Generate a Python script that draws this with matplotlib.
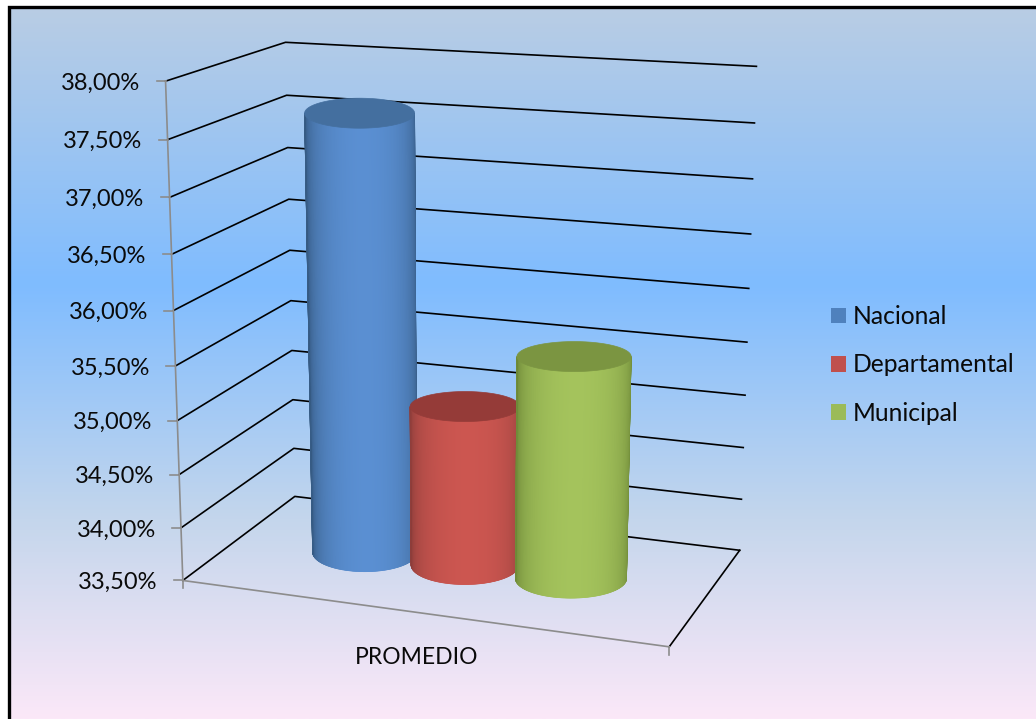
import numpy as np
import matplotlib
matplotlib.use('Agg')
import matplotlib.pyplot as plt
from matplotlib.collections import PolyCollection
from matplotlib.colors import LinearSegmentedColormap
from matplotlib.patches import Patch, Polygon

# data
CATEGORY = 'PROMEDIO'
SERIES_NAMES = ['Nacional', 'Departamental', 'Municipal']
SERIES_VALUES = [37.60, 35.01, 35.57]
TICK_VALUES = [33.5, 34.0, 34.5, 35.0, 35.5, 36.0, 36.5, 37.0, 37.5, 38.0]
TICK_LABELS = ['33,50%', '34,00%', '34,50%', '35,00%', '35,50%',
               '36,00%', '36,50%', '37,00%', '37,50%', '38,00%']

# colours: legend/light part, dark edge, top cap
BAR_LIGHT = ['#5a8fd2', '#cc5650', '#a4c35c']
BAR_DARK = ['#34587f', '#8a3c39', '#6b8636']
BAR_TOP = ['#446f9f', '#953b38', '#7b9541']
LEGEND_COLORS = ['#4f81bd', '#c0504d', '#9bbb59']

# camera fit: (x, value, depth) of the chart box -> pixel in the image
BOX_POINTS = [(0, 33.5, 0), (1, 33.5, 0), (1, 33.5, 1), (0, 33.5, 1),
              (0, 38, 0), (0, 38, 1), (1, 38, 1),
              (0, 36, 0), (0, 36, 1), (1, 36, 1)]
BOX_PIXELS = [(183, 581), (668, 648), (740, 549), (295, 497),
              (165, 81), (285, 43), (757, 67),
              (175, 309), (289, 250), (749, 288)]

BAR_X = [0.278, 0.497, 0.722]
BAR_RX = 0.116
BAR_Z = 0.5
# excel draws the ellipses rounder than the box perspective, so in pixels
TOP_SEMI = 15
BASE_SEMI = 19.5


def fit_camera():
    rows = []
    for (x, v, z), (u, w) in zip(BOX_POINTS, BOX_PIXELS):
        p = [x, (v - 33.5) / 4.5, z, 1]
        rows.append(p + [0, 0, 0, 0] + [-u * a for a in p])
        rows.append([0, 0, 0, 0] + p + [-w * a for a in p])
    return np.linalg.svd(np.array(rows, dtype=float))[2][-1].reshape(3, 4)


CAMERA = fit_camera()


def project(x, v, z):
    x, v, z = np.broadcast_arrays(np.asarray(x, float), np.asarray(v, float), np.asarray(z, float))
    p = np.stack([x, (v - 33.5) / 4.5, z, np.ones_like(x)])
    q = CAMERA @ p.reshape(4, -1)
    return np.column_stack([q[0] / q[2], q[1] / q[2]])


def to_rgb(c):
    return np.array(matplotlib.colors.to_rgb(c))


def ellipse(cx, value, semi, theta):
    left = project(cx - BAR_RX, value, BAR_Z)[0]
    right = project(cx + BAR_RX, value, BAR_Z)[0]
    center = (left + right) / 2
    half = (right[0] - left[0]) / 2
    return np.column_stack([center[0] + half * np.cos(theta), center[1] + semi * np.sin(theta)])


def draw_cylinder(ax, cx, value, light, dark, top, zorder):
    theta = np.linspace(0, np.pi, 181)
    low = ellipse(cx, 33.5, BASE_SEMI, theta)
    high = ellipse(cx, value, TOP_SEMI, theta)
    # solid shape underneath so the grid does not show through the strip seams
    ax.add_patch(Polygon(np.vstack([low, high[::-1]]), closed=True, facecolor=light,
                         edgecolor='none', zorder=zorder))
    strips = []
    colors = []
    for i in range(len(theta) - 1):
        strips.append([low[i], low[i + 1], high[i + 1], high[i]])
        mid = (theta[i] + theta[i + 1]) / 2
        f = abs(np.sin(mid + 0.05)) ** 0.8
        colors.append(to_rgb(dark) + (to_rgb(light) - to_rgb(dark)) * f)
    ax.add_collection(PolyCollection(strips, facecolors=colors, edgecolors=colors,
                                     linewidths=0.5, zorder=zorder + 0.05))
    cap = ellipse(cx, value, TOP_SEMI, np.linspace(0, 2 * np.pi, 121))
    ax.add_patch(Polygon(cap, closed=True, facecolor=top, edgecolor=top, lw=0.5, zorder=zorder + 0.1))


def draw_box(ax):
    for v in TICK_VALUES:
        line = project([0, 0, 1], v, [0, 1, 1])
        ax.plot(line[:, 0], line[:, 1], color='black', lw=1.2, zorder=2)
    right = project([1, 1], 33.5, [0, 1])
    ax.plot(right[:, 0], right[:, 1], color='black', lw=1.2, zorder=2)

    gray = '#8c8c8c'
    axis = project(0, [33.5, 38], 0)
    ax.plot(axis[:, 0], axis[:, 1], color=gray, lw=1.2, zorder=3)
    front = project([0, 1], 33.5, 0)
    ax.plot(front[:, 0], front[:, 1], color=gray, lw=1.2, zorder=3)
    for v, label in zip(TICK_VALUES, TICK_LABELS):
        u, w = project(0, v, 0)[0]
        ax.plot([u - 9, u], [w, w], color=gray, lw=1.2, zorder=3)
        ax.text(u - 25, w + 2, label, ha='right', va='center', fontsize=17, color='#0a0a0a')
    for x in (0, 1):
        u, w = project(x, 33.5, 0)[0]
        ax.plot([u, u], [w, w + 8], color=gray, lw=1.2, zorder=3)


def main():
    fig = plt.figure(figsize=(10.36, 7.19), dpi=100, facecolor='white')
    plt.rcParams['font.family'] = ['Lato', 'DejaVu Sans']
    ax = fig.add_axes([0, 0, 1, 1])
    ax.set_xlim(0, 1036)
    ax.set_ylim(719, 0)
    ax.axis('off')

    bg = LinearSegmentedColormap.from_list('bg', [(0, '#b9cde4'), (0.39, '#7fbcff'),
                                                  (0.72, '#c4d6ec'), (1, '#fbe8f8')])
    ax.imshow(np.linspace(0, 1, 256).reshape(-1, 1), cmap=bg, aspect='auto',
              extent=(9, 1036, 719, 7), zorder=0)
    ax.set_xlim(0, 1036)
    ax.set_ylim(719, 0)
    ax.plot([9, 9, 1036], [719, 7, 7], color='black', lw=2.4, zorder=1,
            solid_joinstyle='miter')

    draw_box(ax)
    for i, value in enumerate(SERIES_VALUES):
        draw_cylinder(ax, BAR_X[i], value, BAR_LIGHT[i], BAR_DARK[i], BAR_TOP[i], 4 + i)

    ax.text(417, 657, CATEGORY, ha='center', va='center', fontsize=16.5, color='#0a0a0a')

    handles = [Patch(facecolor=c, edgecolor='none') for c in LEGEND_COLORS]
    ax.legend(handles, SERIES_NAMES, loc='center left', bbox_to_anchor=(809, 365),
              bbox_transform=ax.transData, frameon=False, fontsize=17.7,
              handlelength=0.61, handleheight=0.61, handletextpad=0.28,
              labelspacing=1.03, labelcolor='#0a0a0a')

    fig.savefig('out.png', dpi=100)


if __name__ == "__main__":
    main()
